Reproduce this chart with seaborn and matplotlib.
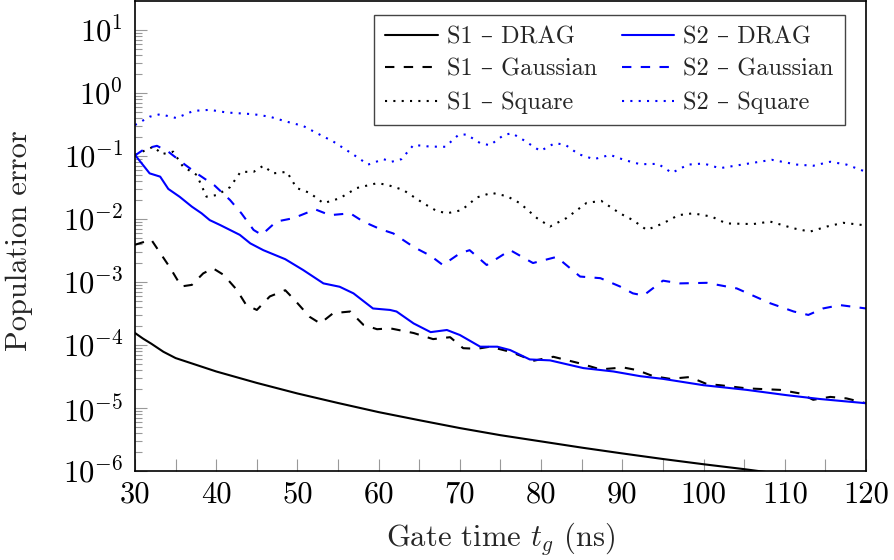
import matplotlib
matplotlib.use("Agg")
import matplotlib.pyplot as plt
import numpy as np
import pandas as pd
import seaborn as sns
from matplotlib.ticker import FixedLocator, FuncFormatter, NullFormatter, LogFormatterSciNotation

# ---- data: population error vs. gate time (ns) ----
t_s1_drag = [30, 31, 32, 33.5, 35, 40, 45, 50, 55, 60, 65, 70, 75, 80, 85, 90, 95, 100, 105, 110, 115, 120]
e_s1_drag = [1.55e-4, 1.26e-4, 1.05e-4, 7.8e-5, 6.2e-5, 3.8e-5, 2.5e-5, 1.7e-5, 1.2e-5, 8.6e-6, 6.4e-6,
             4.8e-6, 3.7e-6, 2.95e-6, 2.35e-6, 1.9e-6, 1.55e-6, 1.28e-6, 1.07e-6, 8.8e-7, 7.3e-7, 6.1e-7]

t_s1_gauss = [30, 32, 34.3, 35.7, 37, 38.4, 39.6, 40.9, 42.5, 43.7, 45, 46.6, 48.5, 49.7, 51.5, 52.8, 54.4,
              56.5, 58.1, 59.8, 61.4, 64.3, 66.7, 68.8, 70.4, 72.1, 73.7, 76.2, 77.8, 79, 81.5, 84.8, 87.3,
              90.1, 91.8, 93.8, 95.9, 98.3, 100.4, 102, 105.3, 109.4, 111.9, 113.5, 115.6, 117.6, 120]
e_s1_gauss = [0.0039, 0.0047, 0.0017, 8.5e-4, 9e-4, 0.00137, 0.00165, 0.0013, 7.6e-4, 4.3e-4, 3.6e-4,
              5.9e-4, 7.4e-4, 5.1e-4, 2.8e-4, 2.2e-4, 3.2e-4, 3.4e-4, 2.1e-4, 1.78e-4, 1.84e-4, 1.55e-4,
              1.24e-4, 1.33e-4, 8.9e-5, 8.7e-5, 9.4e-5, 7.8e-5, 6.5e-5, 5.6e-5, 6.5e-5, 5.1e-5, 4.1e-5,
              4.4e-5, 4.0e-5, 3.2e-5, 2.9e-5, 3.1e-5, 2.4e-5, 2.3e-5, 2.05e-5, 1.94e-5, 1.7e-5, 1.35e-5,
              1.5e-5, 1.42e-5, 1.19e-5]

t_s1_square = [30, 32.3, 33.3, 34.7, 35.9, 37.6, 38.8, 40.1, 41.7, 43, 44.6, 45.8, 47, 48.7, 49.9, 51.5,
               53.2, 55.2, 57.3, 59.8, 61, 63, 65.5, 67.1, 68.4, 70.2, 72.1, 73.9, 75.8, 77.4, 79.5, 81.1,
               83.1, 85.6, 87.4, 89.7, 91.3, 93, 95, 96.9, 98.7, 101, 102.8, 106.1, 108.2, 111.1, 113.1,
               115.2, 117.2, 120]
e_s1_square = [0.104, 0.141, 0.107, 0.117, 0.068, 0.050, 0.0226, 0.024, 0.032, 0.056, 0.056, 0.070, 0.053,
               0.056, 0.031, 0.026, 0.0178, 0.0213, 0.031, 0.037, 0.035, 0.029, 0.0178, 0.0135, 0.0123,
               0.0138, 0.022, 0.026, 0.023, 0.0178, 0.0103, 0.0076, 0.0103, 0.018, 0.0194, 0.0123, 0.0096,
               0.0067, 0.0085, 0.0115, 0.0123, 0.0109, 0.0085, 0.0083, 0.0091, 0.0071, 0.0063, 0.0076,
               0.0087, 0.0079]

t_s2_drag = [30, 31.8, 33.1, 34.1, 35.5, 37, 38.2, 39.2, 40.5, 42.9, 44.2, 45.8, 48.5, 50.7, 53.2, 55.2,
             56.9, 59.3, 61.4, 62.2, 64.3, 66.4, 68.4, 70, 72.5, 74.6, 76.2, 78.6, 81.1, 85.2, 88.9, 92.2,
             95, 100, 105.3, 110.2, 114.3, 120]
e_s2_drag = [0.104, 0.053, 0.047, 0.030, 0.0225, 0.0157, 0.0123, 0.0096, 0.0080, 0.0056, 0.0041, 0.0032,
             0.0023, 0.00155, 9.5e-4, 8.4e-4, 6.6e-4, 3.8e-4, 3.6e-4, 3.4e-4, 2.2e-4, 1.6e-4, 1.73e-4,
             1.44e-4, 9.4e-5, 9.4e-5, 8.3e-5, 5.9e-5, 5.7e-5, 4.3e-5, 3.8e-5, 3.2e-5, 2.9e-5, 2.3e-5,
             1.94e-5, 1.6e-5, 1.39e-5, 1.19e-5]

t_s2_gauss = [30, 31.2, 32.7, 34.1, 36.2, 37.6, 39.8, 41.7, 43.1, 44.6, 45.6, 47.4, 49.5, 52.2, 54, 56.5,
              58.1, 60.2, 61.8, 64.3, 66.4, 67.9, 70, 71.2, 73.3, 76.2, 79, 81.9, 84.8, 87.3, 89.7, 91.3,
              92.6, 95, 97.1, 100.4, 104.1, 108.2, 111.1, 112.9, 114.7, 116.8, 120]
e_s2_gauss = [0.102, 0.13, 0.145, 0.117, 0.072, 0.053, 0.034, 0.020, 0.0123, 0.0067, 0.0056, 0.0091, 0.0103,
              0.0142, 0.0115, 0.0123, 0.0091, 0.0069, 0.0059, 0.0036, 0.0026, 0.00186, 0.00285, 0.0032,
              0.00186, 0.0032, 0.0020, 0.0025, 0.00122, 0.00115, 8.5e-4, 6.6e-4, 6.1e-4, 0.00105, 9.5e-4,
              9.7e-4, 7.9e-4, 4.6e-4, 3.4e-4, 3.0e-4, 3.8e-4, 4.3e-4, 3.8e-4]

t_s2_square = [30, 31.8, 33.1, 35.1, 37.2, 39.2, 41.3, 44.6, 46.6, 48.7, 50.7, 52.4, 54.4, 56.9, 58.7, 60.6,
               61.6, 62.8, 64.3, 66.3, 68.2, 69.8, 70.8, 72.5, 73.7, 75.4, 76.4, 77.8, 79.9, 81.7, 83, 84.6,
               86.5, 88.5, 90.3, 92.2, 94.4, 96.1, 98.1, 100, 102, 105.3, 108.4, 111.5, 113.5, 115.6, 117.6,
               120]
e_s2_square = [0.31, 0.42, 0.46, 0.40, 0.52, 0.54, 0.49, 0.46, 0.42, 0.35, 0.30, 0.23, 0.17, 0.105, 0.073,
               0.089, 0.081, 0.089, 0.15, 0.141, 0.14, 0.215, 0.22, 0.16, 0.148, 0.215, 0.23, 0.18, 0.12,
               0.16, 0.15, 0.107, 0.089, 0.104, 0.086, 0.074, 0.075, 0.054, 0.073, 0.076, 0.064, 0.075,
               0.087, 0.073, 0.070, 0.081, 0.073, 0.056]

labels = ["S1 – DRAG", "S1 – Gaussian", "S1 – Square", "S2 – DRAG", "S2 – Gaussian", "S2 – Square"]
series = [(t_s1_drag, e_s1_drag), (t_s1_gauss, e_s1_gauss), (t_s1_square, e_s1_square),
          (t_s2_drag, e_s2_drag), (t_s2_gauss, e_s2_gauss), (t_s2_square, e_s2_square)]

x_major = [30, 40, 50, 60, 70, 80, 90, 100, 110, 120]
x_minor = [35, 45, 55, 65, 75, 85, 95, 105, 115]
y_decades = [1e-6, 1e-5, 1e-4, 1e-3, 1e-2, 1e-1, 1e0, 1e1]

df = pd.concat(
    [pd.DataFrame({"t": t, "err": e, "curve": lab}) for (t, e), lab in zip(series, labels)],
    ignore_index=True,
)

sns.set_theme(style="ticks")
plt.rcParams.update({
    "font.family": ["cmr10", "DejaVu Serif"],
    "mathtext.fontset": "cm",
    "axes.formatter.use_mathtext": True,
    "axes.unicode_minus": True,
    "axes.edgecolor": "black",
    "axes.linewidth": 1.2,
})

palette = {lab: ("black" if lab.startswith("S1") else "#0000ff") for lab in labels}
dash_for = {"DRAG": "", "Gaussian": (4.5, 4.5), "Square": (1, 3)}
dashes = {lab: dash_for[lab.split("– ")[1]] for lab in labels}

fig = plt.figure(figsize=(8.94, 5.6), dpi=100)
ax = fig.add_axes([135 / 894, 89 / 560, 731 / 894, 470 / 560])

sns.lineplot(data=df, x="t", y="err", hue="curve", style="curve", hue_order=labels, style_order=labels,
             palette=palette, dashes=dashes, estimator=None, sort=False, linewidth=1.5, ax=ax)

ax.set_yscale("log")
ax.set_xlim(30, 120)
ax.set_ylim(1e-6, 10 ** 1.46)

ax.xaxis.set_major_locator(FixedLocator(x_major))
ax.xaxis.set_minor_locator(FixedLocator(x_minor))
ax.xaxis.set_major_formatter(FuncFormatter(lambda v, p: f"{v:g}"))
ax.xaxis.set_minor_formatter(NullFormatter())

ax.yaxis.set_major_locator(FixedLocator(y_decades))
ax.yaxis.set_major_formatter(LogFormatterSciNotation())
minor_y = [m * d for d in y_decades[:-1] for m in range(2, 10)]
ax.yaxis.set_minor_locator(FixedLocator(minor_y))
ax.yaxis.set_minor_formatter(NullFormatter())

ax.tick_params(which="both", direction="in", color="#999999", width=0.8, top=False, right=False,
               labelsize=22, labelcolor="black")
ax.tick_params(axis="x", which="major", length=8.6, pad=7)
ax.tick_params(axis="y", which="major", length=8.6, pad=8.5)
ax.tick_params(axis="x", which="minor", length=8.6)
ax.tick_params(axis="y", which="minor", length=5)

for s in ax.spines.values():
    s.set_visible(True)
    s.set_color("black")
    s.set_linewidth(1.2)

ax.set_xlabel(r"Gate time $t_g$ (ns)", fontsize=22)
ax.set_ylabel("Population error", fontsize=22)
ax.xaxis.set_label_coords(0.5, -0.105)
ax.yaxis.set_label_coords(-0.14, 0.49)

handles, _ = ax.get_legend_handles_labels()
leg = ax.legend(handles, labels, ncol=2, loc="upper right", bbox_to_anchor=(0.971, 0.970),
                borderaxespad=0, fontsize=17.5, frameon=True, fancybox=False, framealpha=1,
                edgecolor="#444444", handlelength=2.18, handletextpad=0.37, columnspacing=1.0,
                labelspacing=0.44, borderpad=0.45)
leg.get_frame().set_linewidth(1.0)

fig.savefig("out.png", dpi=100)
